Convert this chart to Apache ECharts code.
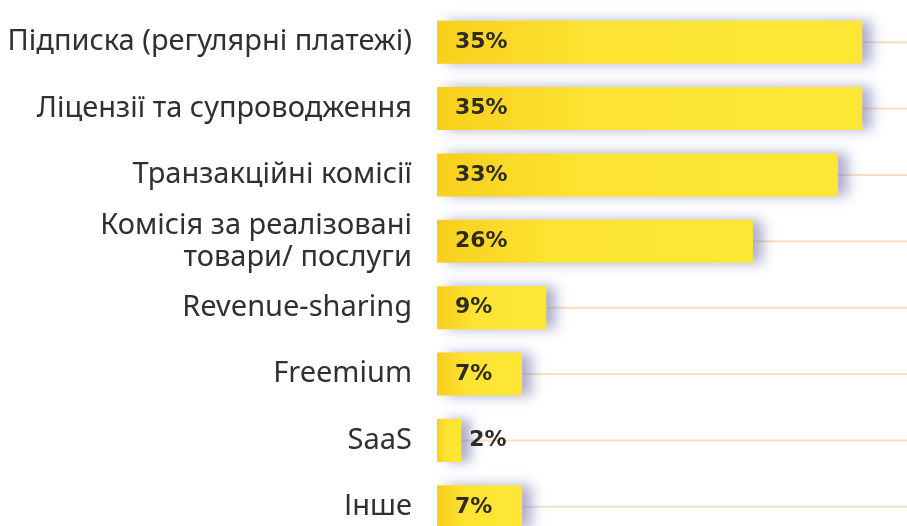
<!DOCTYPE html>
<html>
<head>
<meta charset="utf-8">
<script src="https://cdn.jsdelivr.net/npm/echarts@6/dist/echarts.min.js"></script>
<style>
  html, body { margin: 0; padding: 0; background: #ffffff; overflow: hidden; }
  /* the plot continues past the frame on the right and bottom edges */
  #frame { width: 907px; height: 526px; overflow: hidden; position: relative; }
  #chart { width: 923px; height: 540px; position: absolute; left: 0; top: 0; }
</style>
</head>
<body>
<div id="frame"><div id="chart"></div></div>
<script>
// Revenue models, share of respondents (%)
const categories = [
  'Підписка (регулярні платежі)',
  'Ліцензії та супроводження',
  'Транзакційні комісії',
  'Комісія за реалізовані\nтовари/ послуги',
  'Revenue-sharing',
  'Freemium',
  'SaaS',
  'Інше'
];
const shares = [35, 35, 33, 26, 9, 7, 2, 7];
const AXIS_MAX = 40;

const chart = echarts.init(document.getElementById('chart'), null, { renderer: 'canvas' });

const barColor = new echarts.graphic.LinearGradient(0, 0, 1, 0, [
  { offset: 0, color: '#f8cf1c' },
  { offset: 0.35, color: '#fde332' },
  { offset: 1, color: '#fde734' }
]);

chart.setOption({
  backgroundColor: '#ffffff',
  animation: false,
  grid: { left: 437, top: 9, right: 0, bottom: 0, containLabel: false },
  xAxis: {
    type: 'value', min: 0, max: AXIS_MAX,
    show: false
  },
  yAxis: [
    {
      type: 'category',
      data: categories,
      inverse: true,
      axisLine: { show: false },
      axisTick: { show: false },
      axisLabel: {
        margin: 25,
        fontFamily: 'Noto Sans',
        fontSize: 29,
        color: '#303030',
        lineHeight: 32,
        align: 'right'
      }
    },
    {
      // hidden twin axis so the guide lines center on each row on their own
      type: 'category',
      data: categories,
      inverse: true,
      position: 'left',
      show: false
    }
  ],
  series: [
    {
      // thin guide line running behind each bar
      type: 'bar',
      yAxisIndex: 1,
      data: categories.map(() => AXIS_MAX),
      barWidth: 2,
      silent: true,
      itemStyle: { color: '#f6e0c2' },
      z: 1
    },
    {
      type: 'bar',
      yAxisIndex: 0,
      data: shares.map((v) => ({
        value: v,
        label: v < 5 ? { position: 'right', distance: 8 } : undefined
      })),
      barWidth: 43,
      z: 2,
      itemStyle: {
        color: barColor,
        shadowColor: 'rgba(110, 110, 170, 0.55)',
        shadowBlur: 12,
        shadowOffsetX: 10
      },
      label: {
        show: true,
        position: 'insideLeft',
        distance: 18,
        formatter: '{c}%',
        fontFamily: 'DejaVu Sans',
        fontWeight: 'bold',
        fontSize: 22,
        color: '#2f2a22'
      }
    }
  ]
});
</script>
</body>
</html>
